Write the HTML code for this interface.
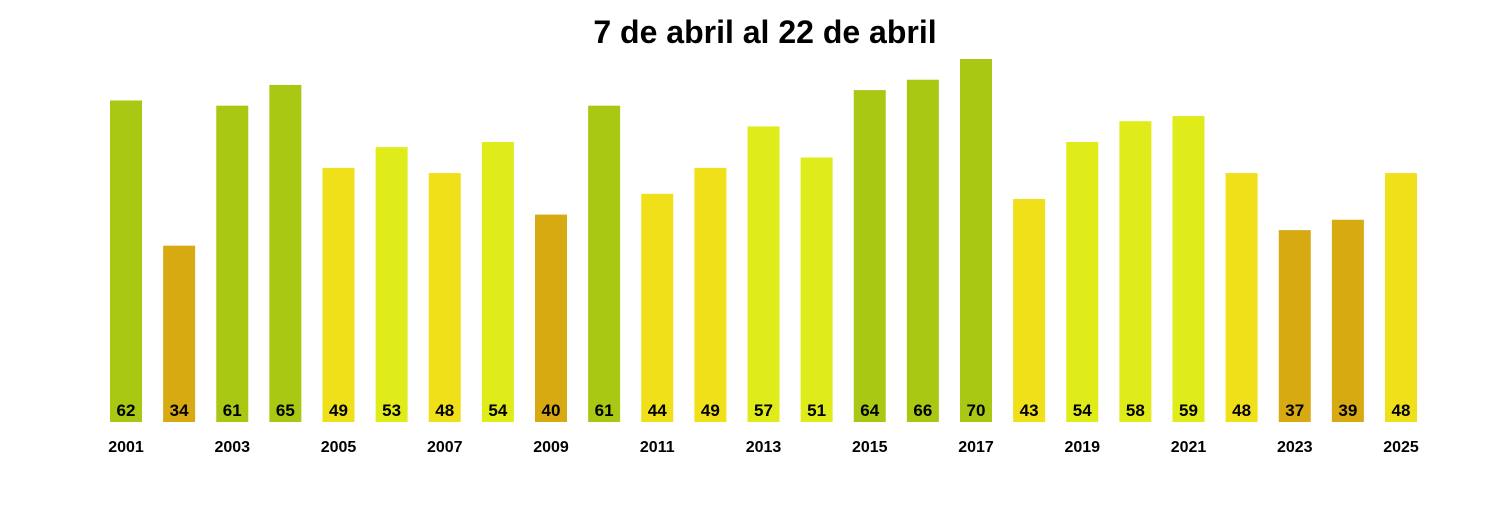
<!DOCTYPE html>
<html><head><meta charset="utf-8"><style>
body{margin:0;background:#fff}
text{font-family:"Liberation Sans",Arial,sans-serif;font-weight:bold}
</style></head><body>
<svg id="c" width="1500" height="500">
<text x="765" y="43" text-anchor="middle" font-size="32">7 de abril al 22 de abril</text>
</svg>
<script>
const years=[2001,2002,2003,2004,2005,2006,2007,2008,2009,2010,2011,2012,2013,2014,2015,2016,2017,2018,2019,2020,2021,2022,2023,2024,2025];
const values=[62,34,61,65,49,53,48,54,40,61,44,49,57,51,64,66,70,43,54,58,59,48,37,39,48];
const svg=document.getElementById('c');
const NS='http://www.w3.org/2000/svg';
const x0=126,step=53.125,base=422,scale=363/70,bw=32;
const xs=i=>x0+i*step;
const ys=v=>base-v*scale;
function col(v){return v>=60?'#a8c814':v>=50?'#e0ec1a':v>40?'#f0e01a':'#d8aa12';}
values.forEach((v,i)=>{
 const r=document.createElementNS(NS,'rect');
 r.setAttribute('x',xs(i)-bw/2);r.setAttribute('y',ys(v));
 r.setAttribute('width',bw);r.setAttribute('height',base-ys(v));
 r.setAttribute('fill',col(v));
 
 
 svg.appendChild(r);
 const t=document.createElementNS(NS,'text');
 t.setAttribute('x',xs(i));t.setAttribute('y',416);
 t.setAttribute('text-anchor','middle');t.setAttribute('font-size','17');
 t.textContent=v;
 
 
 svg.appendChild(t);
 if(i%2===0){
  const a=document.createElementNS(NS,'text');
  a.setAttribute('x',xs(i));a.setAttribute('y',452);
  a.setAttribute('text-anchor','middle');a.setAttribute('font-size','16');
  a.textContent=years[i];
  
  
  svg.appendChild(a);
 }
});
</script>
</body></html>
